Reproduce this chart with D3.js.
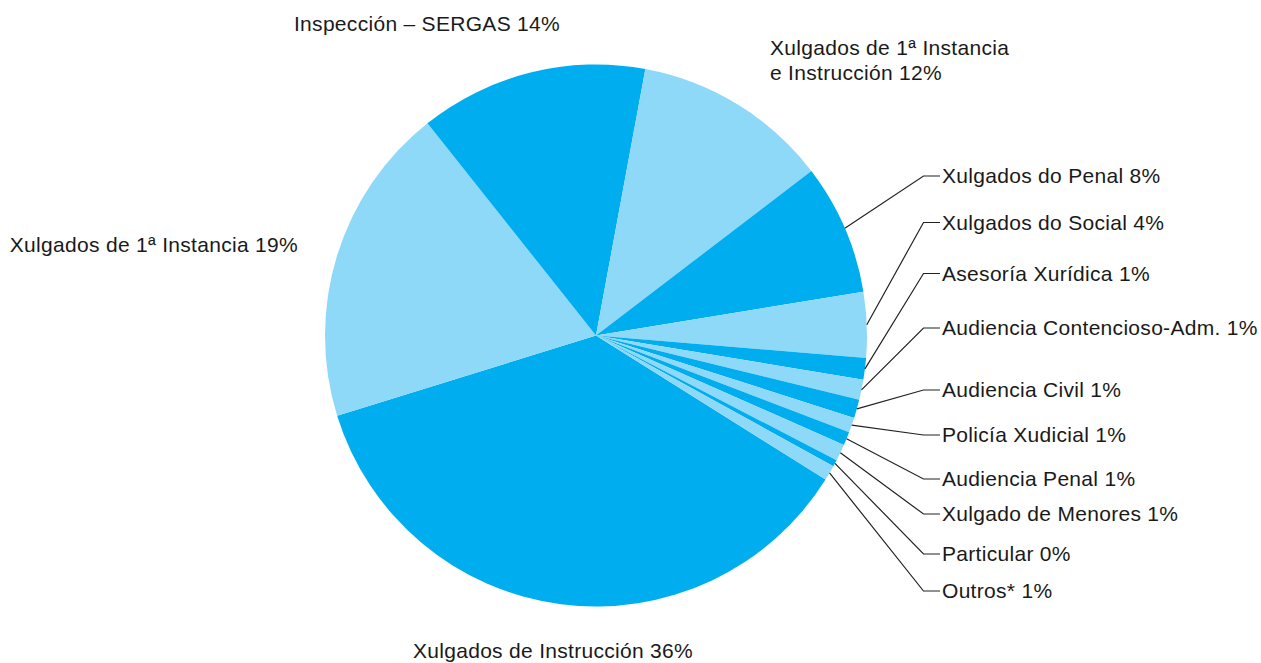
<!DOCTYPE html>
<html>
<head>
<meta charset="utf-8">
<script src="https://cdn.jsdelivr.net/npm/d3@7/dist/d3.min.js"></script>
<style>
  html, body { margin: 0; padding: 0; background: #fff; }
  svg { display: block; }
  text { font-family: "Liberation Sans", Arial, Helvetica, sans-serif; font-size: 21px; letter-spacing: 0.3px; fill: #1a1a1a; }
</style>
</head>
<body>
<svg id="chart" width="1261" height="663"></svg>
<script>
// Origin of cases (share in %), in drawing order, clockwise
const categories = [
  "Xulgados de Instrucción",
  "Xulgados de 1ª Instancia",
  "Inspección – SERGAS",
  "Xulgados de 1ª Instancia\ne Instrucción",
  "Xulgados do Penal",
  "Xulgados do Social",
  "Asesoría Xurídica",
  "Audiencia Contencioso-Adm.",
  "Audiencia Civil",
  "Policía Xudicial",
  "Audiencia Penal",
  "Xulgado de Menores",
  "Particular",
  "Outros*"
];
const shares = [36.3, 19.1, 13.6, 11.7, 7.8, 3.9, 1.3, 1.2, 1.1, 0.9, 0.8, 1.0, 0.4, 0.9];

const colorDark = "#00aeef";
const colorLight = "#8ed8f8";

const svg = d3.select("#chart");
const cx = 596, cy = 335.5, radius = 271;
const startDeg = 122.1;

const g = svg.append("g").attr("transform", `translate(${cx},${cy})`);

const pie = d3.pie()
  .sort(null)
  .value(d => d)
  .startAngle(startDeg * Math.PI / 180)
  .endAngle(startDeg * Math.PI / 180 + 2 * Math.PI);

const arc = d3.arc().innerRadius(0).outerRadius(radius);
const arcs = pie(shares);

g.selectAll("path.slice")
  .data(arcs)
  .join("path")
  .attr("class", "slice")
  .attr("d", arc)
  .attr("fill", (d, i) => i % 2 === 0 ? colorDark : colorLight);

const labelText = i => categories[i] + " " + Math.round(shares[i]) + "%";

// Large slices: free-standing labels around the pie
const freeLabels = [
  { i: 0, x: 553, y: 658, anchor: "middle" },
  { i: 1, x: 298, y: 252, anchor: "end" },
  { i: 2, x: 427, y: 31, anchor: "middle" },
  { i: 3, x: 770, y: 55, anchor: "start", lineGap: 25 }
];

freeLabels.forEach(l => {
  const lines = labelText(l.i).split("\n");
  const t = svg.append("text")
    .attr("x", l.x)
    .attr("y", l.y)
    .attr("text-anchor", l.anchor);
  lines.forEach((s, k) => {
    t.append("tspan")
      .attr("x", l.x)
      .attr("y", l.y + k * (l.lineGap || 0))
      .text(s);
  });
});

// Small slices: labels in a column on the right with leader lines
const calloutY = [176, 222.5, 273.5, 328, 390, 435, 479, 514, 554, 591];
const elbowX = 923.5, tickEndX = 940, textX = 942;

const leaders = svg.append("g");
calloutY.forEach((ly, k) => {
  const i = k + 4;
  const a = (arcs[i].startAngle + arcs[i].endAngle) / 2;
  const px = cx + radius * Math.sin(a);
  const py = cy - radius * Math.cos(a);
  leaders.append("polyline")
    .attr("points", `${px},${py} ${elbowX},${ly} ${tickEndX},${ly}`)
    .attr("fill", "none")
    .attr("stroke", "#222")
    .attr("stroke-width", 1.2);
  svg.append("text")
    .attr("x", textX)
    .attr("y", ly)
    .attr("dy", "0.35em")
    .text(labelText(i));
});
</script>
</body>
</html>
